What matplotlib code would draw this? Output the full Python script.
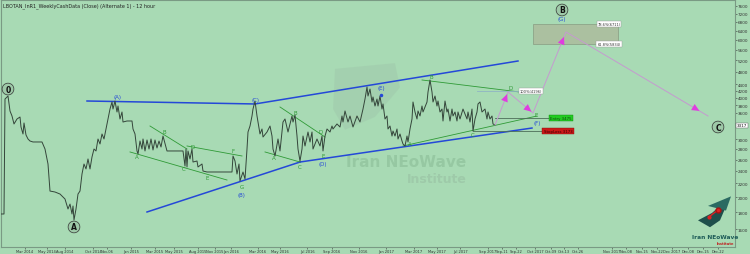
import matplotlib
matplotlib.use("Agg")
import matplotlib.pyplot as plt
from matplotlib.patches import Rectangle, Polygon, Circle
from matplotlib.ticker import FixedLocator, FixedFormatter, NullFormatter

# ---------------- data ----------------
title = "LBOTAN_InR1_WeeklyCashData (Close) (Alternate 1) - 12 hour"

# time position (chart units) and close price
close_t = [0, 4, 5, 8, 10, 12, 14, 17, 20, 21, 23, 24, 26, 28, 30, 33, 42, 45, 48, 50,
           55, 60, 65, 68, 70, 72, 73, 74, 76, 78, 80, 82, 84, 86, 88, 90, 92, 94, 96, 98,
           100, 102, 104, 106, 108, 110, 112, 113, 115, 117, 118, 120, 122, 123, 127, 132, 133, 135, 137, 138,
           140, 142, 143, 145, 147, 149, 151, 153, 155, 157, 159, 161, 163, 167, 183, 185, 186, 187, 188, 190,
           192, 193, 197, 198, 202, 203, 207, 232, 233, 235, 237, 239, 240, 243, 245, 247, 248, 250, 252, 253,
           255, 257, 258, 260, 262, 263, 267, 270, 272, 273, 275, 278, 280, 283, 285, 288, 292, 293, 295, 297,
           298, 300, 302, 303, 305, 308, 310, 312, 313, 317, 320, 322, 323, 325, 327, 330, 332, 333, 337, 340,
           342, 343, 345, 348, 350, 353, 357, 360, 363, 365, 367, 368, 370, 372, 373, 375, 377, 378, 380, 382,
           383, 385, 387, 388, 390, 392, 393, 395, 397, 398, 400, 402, 403, 405, 407, 408, 410, 412, 413, 415,
           417, 418, 420, 422, 423, 427, 428, 430, 432, 433, 435, 437, 438, 440, 442, 443, 445, 447, 448, 450,
           452, 453, 455, 457, 458, 460, 463, 467, 468, 470, 472, 473, 475, 477, 478, 480, 482, 485, 487, 488,
           490, 492, 493, 495]
close_p = [1777, 1777, 3968, 4052, 3650, 3524, 3333, 3451, 3499, 3263, 3108, 3356, 3086, 3001, 2959, 2939, 2939, 2798, 2520, 2086,
           2072, 2043, 1973, 1840, 1905, 1777, 1879, 1704, 1840, 2043, 2086, 2350, 2520, 2434, 2610, 2434, 2647, 2798, 2760, 3001,
           2898, 3108, 3001, 3218, 3451, 3700, 3886, 3700, 3913, 3624, 3779, 3451, 3624, 3379, 3403, 3403, 3218, 3108, 2760, 2703,
           2959, 2798, 3001, 2760, 2980, 2798, 3001, 2779, 2980, 2818, 2959, 2838, 3064, 2760, 2760, 2485, 2798, 2468, 2760, 2610,
           2798, 2555, 2573, 2468, 2520, 2399, 2383, 2383, 2665, 2573, 2350, 2520, 2238, 2383, 2269, 2798, 3151, 3286, 3524, 3700,
           3913, 3524, 3379, 3108, 3218, 3043, 3151, 3286, 3064, 2798, 2665, 3001, 2760, 3379, 3451, 3151, 3524, 3379, 3549, 3064,
           2798, 2573, 2798, 3064, 2858, 3151, 2939, 3151, 2798, 3001, 2858, 3064, 2760, 3064, 3218, 3151, 3286, 3218, 3333, 3263,
           3524, 3379, 3650, 3379, 3524, 3263, 3524, 3379, 3700, 3968, 4315, 4052, 4254, 3886, 4024, 3779, 3968, 3779, 4052, 3700,
           3833, 3451, 3524, 3218, 3286, 3064, 3173, 3064, 3218, 3001, 3108, 2959, 2898, 2858, 3064, 2939, 3218, 3451, 3886, 3624,
           3451, 3650, 3524, 3779, 3624, 3886, 4166, 4532, 4166, 3886, 4052, 3779, 3913, 3624, 3700, 3403, 3913, 3624, 3700, 3403,
           3700, 3524, 3624, 3403, 3624, 3451, 3700, 3451, 3624, 3379, 3700, 3173, 3451, 3624, 3833, 3886, 3624, 3700, 3451, 3624,
           3451, 3524, 3333, 3310]

last_price_label = "3317"

# forecast path (time, price)
proj_t = [495, 508, 533, 566, 708]
proj_p = [3310, 4166, 3599, 6338, 3524]

# blue trend lines: (t0, p0, t1, p1)
blue_lines = [(87, 3913, 255, 3833), (255, 3833, 518, 5175),
              (147, 1802, 300, 2555), (300, 2555, 532, 3240)]
# green sub-wave lines
green_lines = [(150, 3286, 187, 2798), (187, 2858, 242, 2665), (130, 2741, 227, 2253),
               (280, 3753, 325, 3043), (265, 2741, 300, 2555),
               (422, 4532, 520, 4166), (403, 2858, 537, 3524)]
level_lines = [(495, 3475, 552, 3475), (473, 3173, 545, 3173)]
d_level_line = (477, 4196, 520, 4196)

# labels: (text, t, price)
circle_labels = [("0", 8, 4254), ("A", 74, 1623), ("B", 562, 7391), ("C", 718, 3263)]
blue_labels = [("(A)", 118, 4052), ("(B)", 241, 2043), ("(C)", 255, 3968), ("(D)", 323, 2537),
               ("(E)", 381, 4315), ("(F)", 537, 3356), ("(G)", 562, 6940)]
green_labels = [("A", 137, 2647), ("B", 164, 3173), ("C", 184, 2434), ("D", 193, 2838),
                ("E", 207, 2301), ("F", 233, 2760), ("G", 242, 2146),
                ("A", 274, 2628), ("B", 295, 3599), ("C", 300, 2468), ("D", 321, 3173), ("E", 323, 2665),
                ("A", 410, 2918), ("B", 431, 4628), ("C", 473, 3086), ("D", 511, 4315), ("E", 536, 3549)]

fib_box = (533, 618, 5834, 6709)
fib_top_label = "78.6%(6711)"
fib_bot_label = "61.8%(5834)"
d_label = "100%(4196)"
entry_label = "Entry 3475"
stop_label = "StopLoss 3173"

x_tick_pos = [25, 47, 65, 93, 107, 131, 155, 174, 198, 215, 231, 258, 280, 307, 332, 359, 386, 414,
              437, 460, 488, 502, 516, 535, 551, 564, 578, 612, 626, 642, 657, 672, 688, 703, 718]
x_tick_lab = ["Mar 2014", "May 2014", "Aug 2014", "Oct 2014", "Nov-06", "Jan 2015", "Mar 2015", "May 2015",
              "Aug 2015", "Nov 2015", "Jan 2016", "Mar 2016", "May 2016", "Jul 2016", "Sep 2016", "Nov 2016",
              "Jan 2017", "Mar 2017", "May 2017", "Jul 2017", "Sep 2017", "Sep-11", "Sep-22", "Oct 2017",
              "Oct-09", "Oct-13", "Oct-26", "Nov 2017", "Nov-08", "Nov-15", "Nov-22", "Dec 2017", "Dec-08",
              "Dec-15", "Dec-22"]
y_ticks = [7600, 7200, 6800, 6400, 6000, 5600, 5200, 4800, 4400, 4200, 4000, 3800, 3600,
           3000, 2800, 2600, 2400, 2200, 2000, 1800, 1600, 1400]

# ---------------- style ----------------
BG = "#a8dab4"
BLUE = "#2448d8"
GREEN = "#2f9a36"
PRICE = "#34453a"
PROJ = "#c59ad0"
HEAD = "#e03ce0"

fig = plt.figure(figsize=(7.5, 2.55), dpi=100, facecolor=BG)
ax = fig.add_axes([1 / 750, 7 / 255, 734 / 750, 247 / 255])
ax.set_facecolor(BG)
ax.set_yscale("log")
ax.set_xlim(1, 735)
ax.set_ylim(1411, 7925)

for s in ax.spines.values():
    s.set_color("#7a9a84")
    s.set_linewidth(0.8)

# watermark
ax.add_patch(Polygon([[335, 4900], [395, 5100], [400, 4300], [375, 3500], [345, 3200], [333, 3700]],
                     closed=True, fc="#9fc6aa", ec="none", alpha=0.45, zorder=0))
ax.add_patch(Circle((357, 3500), 7, fc="#c8c09a", ec="none", alpha=0.4, zorder=0,
                    transform=ax.transData))
ax.text(406, 2560, "Iran NEoWave", fontsize=11, fontweight="bold", color="#96c8a2",
        ha="center", va="center", zorder=0.5)
ax.text(437, 2280, "Institute", fontsize=9, fontweight="bold", color="#9ecaa9",
        ha="center", va="center", zorder=0.5)

# fib box
ax.add_patch(Rectangle((fib_box[0], fib_box[2]), fib_box[1] - fib_box[0], fib_box[3] - fib_box[2],
                       fc="#abc0a0", ec="#8da488", lw=0.6, zorder=1))
for txt, p in [(fib_top_label, fib_box[3]), (fib_bot_label, fib_box[2])]:
    ax.text(fib_box[1] - 9, p, txt, fontsize=2.6, ha="center", va="center", color="#333",
            bbox=dict(boxstyle="square,pad=0.25", fc="white", ec="#999", lw=0.3), zorder=5)

# trend lines
for t0, p0, t1, p1 in blue_lines:
    ax.plot([t0, t1], [p0, p1], color=BLUE, lw=1.1, zorder=3)
for t0, p0, t1, p1 in green_lines:
    ax.plot([t0, t1], [p0, p1], color=GREEN, lw=0.6, zorder=3)
for t0, p0, t1, p1 in level_lines:
    ax.plot([t0, t1], [p0, p1], color="#4c6e58", lw=0.6, zorder=3)
ax.plot([d_level_line[0], d_level_line[2]], [d_level_line[1], d_level_line[3]],
        color="#8fb4c4", lw=0.6, zorder=3)

# price
ax.plot(close_t, close_p, color=PRICE, lw=0.7, zorder=4)

# projection: light violet path with magenta heads near each end
ax.plot(proj_t, proj_p, color=PROJ, lw=0.7, zorder=4)
for i in range(len(proj_t) - 1):
    t0, p0, t1, p1 = proj_t[i], proj_p[i], proj_t[i + 1], proj_p[i + 1]
    fa, fb = 0.80, 0.94
    ta, tb = t0 + (t1 - t0) * fa, t0 + (t1 - t0) * fb
    pa, pb = p0 * (p1 / p0) ** fa, p0 * (p1 / p0) ** fb
    ax.annotate("", xy=(tb, pb), xytext=(ta, pa),
                arrowprops=dict(arrowstyle="-|>,head_length=0.55,head_width=0.25", lw=0.01,
                                fc=HEAD, ec=HEAD, shrinkA=0, shrinkB=0), zorder=5)

# D label, entry, stop
ax.text(531, 4196, d_label, fontsize=2.6, ha="center", va="center", color="#333",
        bbox=dict(boxstyle="square,pad=0.25", fc="white", ec="#999", lw=0.3), zorder=6)
ax.text(561, 3475, entry_label, fontsize=2.8, ha="center", va="center", color="#114411",
        bbox=dict(boxstyle="square,pad=0.3", fc="#22cc22", ec="#118811", lw=0.3), zorder=6)
ax.text(558, 3173, stop_label, fontsize=2.8, ha="center", va="center", color="#330000",
        bbox=dict(boxstyle="square,pad=0.3", fc="#cc1818", ec="#881010", lw=0.3), zorder=6)

# labels
for txt, t, p in circle_labels:
    ax.text(t, p, txt, fontsize=5.5, fontweight="bold", ha="center", va="center", color="#111",
            bbox=dict(boxstyle="circle,pad=0.18", fc="#9ec9a8", ec="#333", lw=0.5), zorder=7)
for txt, t, p in blue_labels:
    ax.text(t, p, txt, fontsize=4, ha="center", va="center", color=BLUE, zorder=7)
for txt, t, p in green_labels:
    ax.text(t, p, txt, fontsize=4, ha="center", va="center", color=GREEN, zorder=7)
ax.plot([381], [4090], marker="o", ms=1.5, color=BLUE, zorder=7)

# title
ax.text(3, 7620, title, fontsize=3.5, color="#222", ha="left", va="center", zorder=8)

# x axis
ax.xaxis.set_major_locator(FixedLocator(x_tick_pos))
ax.xaxis.set_major_formatter(FixedFormatter(x_tick_lab))
ax.tick_params(axis="x", labelsize=2.6, length=1.2, width=0.4, pad=0.6, colors="#333",
               direction="out")

# y axis on right
ax.yaxis.tick_right()
ax.yaxis.set_major_locator(FixedLocator(y_ticks))
ax.yaxis.set_major_formatter(FixedFormatter([str(v) for v in y_ticks]))
ax.yaxis.set_minor_formatter(NullFormatter())
ax.tick_params(axis="y", which="major", labelsize=3.0, length=1.5, width=0.4, pad=0.6,
               colors="#333", direction="out")
ax.tick_params(axis="y", which="minor", length=1, width=0.3, direction="out")
ax.text(737, 3300, last_price_label, fontsize=3.0, ha="left", va="center", color="#111",
        bbox=dict(boxstyle="square,pad=0.2", fc="white", ec="#555", lw=0.3),
        clip_on=False, zorder=9)

# logo bottom right
ax.add_patch(Polygon([[698, 1700], [712, 1790], [730, 2000], [720, 1700], [710, 1620]],
                     closed=True, fc="#1e4f4b", ec="none", zorder=6))
ax.add_patch(Polygon([[708, 1880], [731, 2010], [726, 1820]],
                     closed=True, fc="#2b6a62", ec="none", zorder=6))
ax.plot([709, 718], [1740, 1830], color="#dd2222", lw=1, zorder=7)
ax.plot([718], [1830], marker="o", ms=3.5, color="#dd2222", mec="#aa1111", zorder=7)
ax.plot([709], [1740], marker="o", ms=2, color="#dd2222", zorder=7)
ax.text(715, 1520, "Iran NEoWave", fontsize=4.2, fontweight="bold", color="#1e5c58",
        ha="center", va="center", zorder=7)
ax.text(725, 1450, "Institute", fontsize=2.6, fontweight="bold", color="#c02020",
        ha="center", va="center", zorder=7)

fig.savefig("out.png", dpi=100, facecolor=BG)
